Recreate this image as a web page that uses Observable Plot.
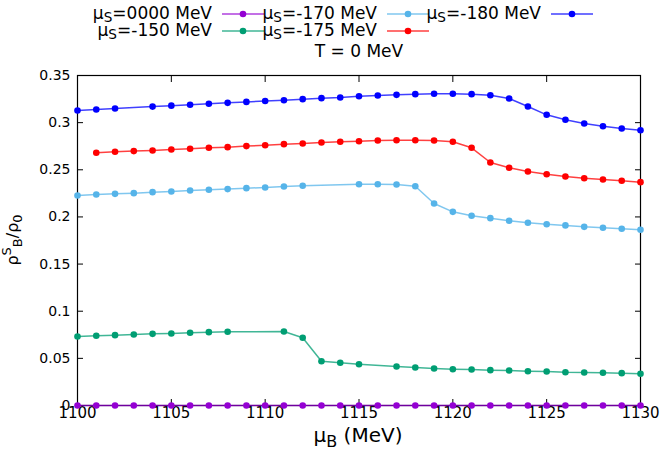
<!DOCTYPE html>
<html><head><meta charset="utf-8">
<script src="https://cdn.jsdelivr.net/npm/d3@7"></script>
<script src="https://cdn.jsdelivr.net/npm/@observablehq/plot@0.6"></script>
<style>
body{margin:0;background:#fff;font-family:"DejaVu Sans",sans-serif;}
svg{display:block}
</style></head><body>
<div id="chart"></div>
<script>
// ---- data ----
const seriesNames = ["0000", "-150", "-170", "-175", "-180"];
const seriesColors = ["#9400d3", "#009e73", "#56b4e9", "#ff0000", "#0000ff"];

const x0000 = [1100,1101,1102,1103,1104,1105,1106,1107,1108,1109,1110,1111,1112,1113,1114,1115,1116,1117,1118,1119,1120,1121,1122,1123,1124,1125,1126,1127,1128,1129,1130];
const y0000 = [0,0,0,0,0,0,0,0,0,0,0,0,0,0,0,0,0,0,0,0,0,0,0,0,0,0,0,0,0,0,0];

const x150 = [1100,1101,1102,1103,1104,1105,1106,1107,1108,1111,1112,1113,1114,1115,1117,1118,1119,1120,1121,1122,1123,1124,1125,1126,1127,1128,1129,1130];
const y150 = [0.0732,0.0739,0.0746,0.0753,0.0760,0.0764,0.0771,0.0778,0.0782,0.0785,0.0718,0.0470,0.0453,0.0438,0.0414,0.0403,0.0392,0.0385,0.0382,0.0375,0.0371,0.0364,0.0361,0.0353,0.0350,0.0347,0.0343,0.0336];

const x170 = [1100,1101,1102,1103,1104,1105,1106,1107,1108,1109,1110,1111,1112,1115,1116,1117,1118,1119,1120,1121,1122,1123,1124,1125,1126,1127,1128,1129,1130];
const y170 = [0.2227,0.2238,0.2245,0.2252,0.2263,0.2270,0.2280,0.2288,0.2295,0.2305,0.2312,0.2323,0.2330,0.2347,0.2347,0.2344,0.2326,0.2143,0.2054,0.2012,0.1987,0.1959,0.1938,0.1923,0.1910,0.1895,0.1885,0.1874,0.1864];

const x175 = [1101,1102,1103,1104,1105,1106,1107,1108,1109,1110,1111,1112,1113,1114,1115,1116,1117,1118,1119,1120,1121,1122,1123,1124,1125,1126,1127,1128,1129,1130];
const y175 = [0.2680,0.2691,0.2698,0.2705,0.2715,0.2723,0.2733,0.2740,0.2751,0.2761,0.2772,0.2779,0.2790,0.2797,0.2803,0.2811,0.2814,0.2814,0.2811,0.2797,0.2733,0.2577,0.2521,0.2482,0.2453,0.2429,0.2411,0.2397,0.2383,0.2369];

const x180 = [1100,1101,1102,1104,1105,1106,1107,1108,1109,1110,1111,1112,1113,1114,1115,1116,1117,1118,1119,1120,1121,1122,1123,1124,1125,1126,1127,1128,1129,1130];
const y180 = [0.3129,0.3140,0.3150,0.3170,0.3180,0.3190,0.3201,0.3210,0.3220,0.3230,0.3238,0.3249,0.3260,0.3267,0.3280,0.3288,0.3295,0.3302,0.3306,0.3306,0.3302,0.3291,0.3256,0.3171,0.3083,0.3030,0.2991,0.2962,0.2938,0.2920];

const xTicks = [1100, 1105, 1110, 1115, 1120, 1125, 1130];
const yTicks = [0, 0.05, 0.1, 0.15, 0.2, 0.25, 0.3, 0.35];
const xLabelTick = ["1100","1105","1110","1115","1120","1125","1130"];
const yLabelTick = ["0","0.05","0.1","0.15","0.2","0.25","0.3","0.35"];
const titleText = "T = 0 MeV";

// ---- build table ----
const xs = [x0000, x150, x170, x175, x180];
const ys = [y0000, y150, y170, y175, y180];
const series = seriesNames.map((name, i) => xs[i].map((x, j) => ({s: name, x, y: ys[i][j]})));

// ---- legend (above the plot svg) ----
const W = 665;
const legendH = 62;
const lg = d3.create("svg").attr("width", W).attr("height", legendH)
  .attr("font-family", "DejaVu Sans, sans-serif");
const colEnds = [212, 377, 541];
const rowYs = [14, 31];
const FS = 17;
seriesNames.forEach((name, i) => {
  const cx = colEnds[Math.floor(i / 2)];
  const cy = rowYs[i % 2];
  const t = lg.append("text").attr("x", cx).attr("y", cy).attr("text-anchor", "end")
    .attr("dominant-baseline", "middle").attr("font-size", FS).attr("fill", "#000");
  t.append("tspan").text("μ");
  t.append("tspan").attr("dy", 4).attr("font-size", FS * 0.8).text("S");
  t.append("tspan").attr("dy", -4).text("=" + name + " MeV");
  lg.append("line").attr("x1", cx + 10).attr("x2", cx + 52).attr("y1", cy).attr("y2", cy)
    .attr("stroke", seriesColors[i]).attr("stroke-width", 1.5).attr("stroke-opacity", 0.75);
  lg.append("circle").attr("cx", cx + 31).attr("cy", cy).attr("r", 3.3).attr("fill", seriesColors[i]);
});
lg.append("text").attr("x", 359).attr("y", 52).attr("text-anchor", "middle")
  .attr("dominant-baseline", "middle").attr("font-size", FS).text(titleText);

// ---- plot ----
const marks = [];
series.forEach((rows, i) => {
  marks.push(Plot.line(rows, {x: "x", y: "y", stroke: seriesColors[i], strokeWidth: 1.5, strokeOpacity: 0.75}));
  marks.push(Plot.dot(rows, {x: "x", y: "y", r: 3.3, fill: seriesColors[i], stroke: "none"}));
});
const fmtX = d => xLabelTick[xTicks.indexOf(d)];
const fmtY = d => yLabelTick[yTicks.findIndex(v => Math.abs(v - d) < 1e-9)];

const plot = Plot.plot({
  width: W,
  height: 390,
  marginTop: 13,
  marginBottom: 47,
  marginLeft: 77,
  marginRight: 25,
  style: {fontFamily: "DejaVu Sans, sans-serif", fontSize: "14px", color: "#000", background: "#fff"},
  x: {domain: [1100, 1130], axis: null},
  y: {domain: [0, 0.35], axis: null},
  marks: [
    Plot.frame({stroke: "#000", strokeWidth: 1.2}),
    Plot.axisX(xTicks, {anchor: "bottom", tickSize: 0, tickPadding: 2, tickFormat: fmtX, label: null, fontSize: 15}),
    Plot.axisX(xTicks, {anchor: "bottom", tickSize: 6, dy: -6, tickFormat: () => "", label: null}),
    Plot.axisX(xTicks, {anchor: "top", tickSize: 6, dy: 6, tickFormat: () => "", label: null}),
    Plot.axisY(yTicks, {anchor: "left", tickSize: 0, tickPadding: 7, tickFormat: fmtY, label: null, fontSize: 14}),
    Plot.axisY(yTicks, {anchor: "left", tickSize: 6, dx: 6, tickFormat: () => "", label: null}),
    Plot.axisY(yTicks, {anchor: "right", tickSize: 6, dx: -6, tickFormat: () => "", label: null}),
    ...marks
  ]
});

// axis titles with sub/superscripts
const ps = d3.select(plot);
const xl = ps.append("text").attr("x", 358).attr("y", 380).attr("text-anchor", "middle")
  .attr("font-size", 20).attr("fill", "#000");
xl.append("tspan").text("μ");
xl.append("tspan").attr("dy", 5).attr("font-size", 16).text("B");
xl.append("tspan").attr("dy", -5).text(" (MeV)");

const yl = ps.append("text").attr("transform", "translate(18,178) rotate(-90)")
  .attr("text-anchor", "middle").attr("font-size", 16).attr("fill", "#000");
yl.append("tspan").text("ρ");
yl.append("tspan").attr("dy", -7).attr("font-size", 13).text("S");
yl.append("tspan").attr("dy", 11).attr("font-size", 13).text("B");
yl.append("tspan").attr("dy", -4).text("/ρ");
yl.append("tspan").attr("dy", 4).attr("font-size", 13).text("0");

const root = document.getElementById("chart");
root.appendChild(lg.node());
root.appendChild(plot);
</script>
</body></html>
